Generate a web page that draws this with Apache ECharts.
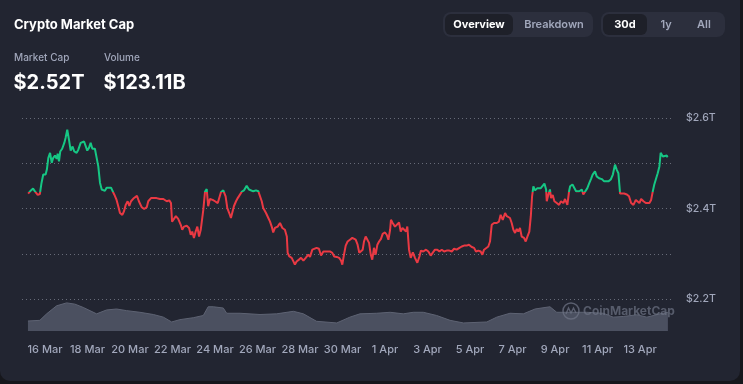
<!DOCTYPE html>
<html><head><meta charset="utf-8">
<script src="https://cdn.jsdelivr.net/npm/echarts@6/dist/echarts.min.js"></script>
<style>
html,body{margin:0;padding:0;background:#16171c;}
#card{position:absolute;left:0;top:0;width:740px;height:381px;background:#222531;border-radius:0 0 10px 10px;overflow:hidden;}
#c{width:740px;height:381px;}
</style></head>
<body><div id="card"><div id="c"></div></div>
<script>
// time in days after 16 Mar 00:00
const times = [-0.79,-0.66,-0.56,-0.47,-0.34,-0.24,-0.16,-0.08,0.03,0.09,
0.16,0.24,0.32,0.39,0.47,0.55,0.60,0.66,0.72,0.81,
0.91,0.97,1.05,1.13,1.21,1.30,1.38,1.49,1.57,1.68,
1.76,1.84,1.92,1.99,2.07,2.15,2.23,2.35,2.43,2.51,
2.59,2.67,2.74,2.82,2.90,2.98,3.11,3.19,3.26,3.37,
3.45,3.53,3.64,3.72,3.80,3.89,3.97,4.05,4.16,4.24,
4.33,4.42,4.55,4.67,4.79,4.86,4.99,5.14,5.25,5.41,
5.57,5.73,5.85,5.93,5.98,6.07,6.16,6.27,6.39,6.46,
6.54,6.67,6.78,6.86,6.93,7.01,7.09,7.17,7.25,7.33,
7.40,7.45,7.53,7.61,7.68,7.76,7.89,8.00,8.13,8.20,
8.28,8.39,8.50,8.58,8.67,8.75,8.81,8.89,8.99,9.07,
9.14,9.26,9.36,9.49,9.60,9.68,9.80,9.93,10.04,10.12,
10.20,10.27,10.40,10.51,10.59,10.67,10.74,10.82,10.95,11.06,
11.17,11.29,11.38,11.42,11.50,11.61,11.69,11.76,11.84,11.95,
12.05,12.16,12.27,12.39,12.47,12.58,12.67,12.78,12.89,12.99,
13.10,13.18,13.30,13.41,13.52,13.61,13.73,13.84,13.93,13.99,
14.07,14.15,14.24,14.35,14.46,14.54,14.62,14.71,14.79,14.87,
14.95,15.01,15.09,15.17,15.25,15.33,15.40,15.48,15.56,15.64,
15.72,15.81,15.89,16.00,16.08,16.16,16.24,16.28,16.36,16.47,
16.56,16.66,16.74,16.82,16.91,16.99,17.05,17.13,17.21,17.31,
17.41,17.52,17.62,17.69,17.80,17.93,18.04,18.15,18.24,18.35,
18.46,18.56,18.67,18.78,18.90,19.03,19.14,19.25,19.37,19.50,
19.61,19.72,19.84,19.95,20.08,20.19,20.28,20.39,20.50,20.58,
20.66,20.75,20.86,20.94,21.02,21.13,21.26,21.36,21.44,21.54,
21.65,21.73,21.80,21.88,21.96,22.04,22.12,22.20,22.27,22.35,
22.43,22.54,22.62,22.70,22.79,22.86,22.92,22.98,23.06,23.17,
23.33,23.42,23.50,23.58,23.61,23.68,23.76,23.81,23.89,23.97,
24.08,24.19,24.28,24.39,24.47,24.58,24.66,24.71,24.82,24.91,
24.99,25.07,25.14,25.26,25.33,25.41,25.52,25.61,25.69,25.77,
25.88,25.96,26.07,26.20,26.31,26.40,26.51,26.62,26.72,26.82,
26.90,26.98,27.06,27.14,27.25,27.38,27.48,27.58,27.69,27.80,
27.89,27.97,28.05,28.16,28.27,28.36,28.44,28.52,28.60,28.67,
28.75,28.83,28.91,28.97,29.07,29.15,29.26,29.29];
// market cap, trillions USD
const caps = [2.433,2.440,2.444,2.438,2.430,2.432,2.457,2.475,2.475,2.486,
2.512,2.523,2.501,2.512,2.517,2.510,2.521,2.504,2.526,2.532,
2.545,2.556,2.574,2.552,2.528,2.537,2.526,2.523,2.530,2.545,
2.541,2.548,2.545,2.528,2.534,2.545,2.532,2.532,2.534,2.493,
2.457,2.442,2.446,2.439,2.446,2.442,2.446,2.438,2.431,2.419,
2.405,2.390,2.386,2.394,2.408,2.416,2.406,2.416,2.422,2.419,
2.428,2.416,2.403,2.399,2.403,2.416,2.423,2.423,2.423,2.421,
2.421,2.416,2.418,2.412,2.371,2.375,2.383,2.377,2.364,2.353,
2.360,2.362,2.357,2.342,2.349,2.335,2.349,2.360,2.338,2.353,
2.353,2.397,2.437,2.443,2.405,2.421,2.419,2.416,2.412,2.408,
2.436,2.440,2.427,2.401,2.390,2.379,2.390,2.405,2.416,2.423,
2.419,2.437,2.440,2.450,2.442,2.438,2.438,2.440,2.438,2.435,
2.416,2.401,2.390,2.379,2.371,2.360,2.347,2.357,2.360,2.368,
2.357,2.353,2.338,2.302,2.294,2.291,2.283,2.276,2.283,2.287,
2.291,2.285,2.291,2.298,2.293,2.309,2.313,2.313,2.311,2.296,
2.305,2.307,2.305,2.305,2.302,2.294,2.293,2.291,2.285,2.276,
2.298,2.318,2.327,2.331,2.335,2.338,2.331,2.320,2.302,2.305,
2.309,2.327,2.338,2.335,2.324,2.298,2.287,2.313,2.298,2.320,
2.327,2.333,2.344,2.347,2.342,2.331,2.353,2.375,2.368,2.360,
2.364,2.369,2.349,2.357,2.359,2.349,2.360,2.309,2.291,2.303,
2.291,2.280,2.294,2.307,2.305,2.309,2.305,2.296,2.302,2.309,
2.309,2.305,2.309,2.305,2.307,2.307,2.305,2.311,2.309,2.313,
2.316,2.318,2.318,2.320,2.315,2.313,2.305,2.307,2.305,2.298,
2.309,2.313,2.316,2.327,2.364,2.368,2.368,2.371,2.386,2.375,
2.390,2.383,2.386,2.379,2.368,2.353,2.346,2.355,2.349,2.357,
2.338,2.335,2.327,2.338,2.349,2.383,2.427,2.449,2.440,2.445,
2.445,2.442,2.455,2.442,2.416,2.430,2.442,2.423,2.430,2.416,
2.412,2.408,2.416,2.412,2.421,2.408,2.438,2.449,2.453,2.449,
2.438,2.442,2.438,2.442,2.431,2.434,2.445,2.456,2.465,2.475,
2.482,2.471,2.467,2.465,2.460,2.464,2.460,2.464,2.475,2.497,
2.486,2.478,2.433,2.432,2.433,2.431,2.427,2.412,2.408,2.419,
2.423,2.412,2.421,2.416,2.412,2.408,2.412,2.419,2.438,2.453,
2.456,2.478,2.493,2.523,2.515,2.519,2.517,2.513];
const baseline = 2.436;
// volume (billions USD)
const volTimes = [-0.80,-0.24,0.08,0.55,1.02,1.41,1.80,2.43,2.90,3.37,3.84,4.47,5.10,5.57,5.96,6.35,6.98,7.45,7.68,7.92,8.39,8.55,9.18,10.12,10.90,11.69,12.16,12.78,13.73,14.35,14.82,15.61,16.24,16.86,17.33,17.80,18.43,19.06,19.69,20.79,21.26,21.88,22.51,23.06,23.76,24.08,24.71,25.49,26.27,26.74,27.21,27.85,28.32,28.94,29.31];
const volumes = [103,110,177,260,290,277,243,177,217,227,210,193,170,143,93,117,137,160,250,250,237,183,183,170,177,203,177,100,83,143,177,183,193,177,193,193,160,110,83,93,143,183,177,227,250,193,193,193,183,143,150,167,143,177,193];
const tickDays = [0,2,4,6,8,10,12,14,16,18,20,22,24,26,28];
const tickLabels = ['16 Mar','18 Mar','20 Mar','22 Mar','24 Mar','26 Mar','28 Mar','30 Mar','1 Apr','3 Apr','5 Apr','7 Apr','9 Apr','11 Apr','13 Apr'];
const yTicksShown = [2.2, 2.4, 2.6];

const FONT = 'Inter, "Noto Sans", sans-serif';
const GRAY = '#a1a7bb';
const chart = echarts.init(document.getElementById('c'), null, {renderer:'canvas'});
const X_MIN = -1.08, X_MAX = 29.55;

function txt(x, y, s, size, weight, color, align){
  return {type:'text', x:x, y:y, style:{text:s, font: weight+' '+size+'px '+FONT, fill:color, textAlign:align||'left', textVerticalAlign:'middle'}, silent:true};
}

const graphics = [
  txt(14, 25, 'Crypto Market Cap', 13, 700, '#ffffff'),
  txt(14, 58, 'Market Cap', 10, 500, GRAY),
  txt(104, 58, 'Volume', 10, 500, GRAY),
  txt(13.5, 82.5, '$2.52T', 20, 700, '#ffffff'),
  txt(103.5, 82.5, '$123.11B', 20, 700, '#ffffff'),
  {type:'rect', shape:{x:443, y:12, width:150, height:25, r:8}, style:{fill:'#2c2f3d'}, silent:true},
  {type:'rect', shape:{x:445, y:14, width:68, height:21, r:6}, style:{fill:'#1e2029'}, silent:true},
  txt(479, 24.5, 'Overview', 11, 700, '#ffffff', 'center'),
  txt(554, 24.5, 'Breakdown', 11, 600, GRAY, 'center'),
  {type:'rect', shape:{x:601, y:12, width:124, height:25, r:8}, style:{fill:'#2c2f3d'}, silent:true},
  {type:'rect', shape:{x:603, y:14, width:44, height:21, r:6}, style:{fill:'#1e2029'}, silent:true},
  txt(625, 24.5, '30d', 11, 700, '#ffffff', 'center'),
  txt(666, 24.5, '1y', 11, 600, GRAY, 'center'),
  txt(704, 24.5, 'All', 11, 600, GRAY, 'center'),
  // watermark
  {type:'circle', shape:{cx:571, cy:311, r:8}, style:{fill:'none', stroke:'rgba(110,115,132,0.75)', lineWidth:1.5}, silent:true, z:100},
  {type:'polyline', shape:{points:[[566,314],[568.5,308],[571,313],[573.5,308],[576,313]]}, style:{fill:'none', stroke:'rgba(110,115,132,0.75)', lineWidth:1.4}, silent:true, z:100},
  {type:'text', x:583, y:311, style:{text:'CoinMarketCap', font:'700 12px '+FONT, fill:'rgba(110,115,132,0.7)', textVerticalAlign:'middle'}, silent:true, z:100}
];

const option = {
  animation:false,
  backgroundColor:'transparent',
  grid:[
    {left:22, right:67, top:118, height:181, containLabel:false},
    {left:22, right:67, top:299, height:32, containLabel:false}
  ],
  xAxis:[
    {type:'value', gridIndex:0, min:X_MIN, max:X_MAX, show:false},
    {type:'value', gridIndex:1, min:X_MIN, max:X_MAX,
     axisLine:{show:false}, axisTick:{show:false}, splitLine:{show:false},
     axisLabel:{customValues:tickDays, color:GRAY, fontSize:11, fontFamily:FONT, fontWeight:500, margin:13,
       formatter:function(v){ const i = tickDays.indexOf(Math.round(v)); return i>=0 ? tickLabels[i] : ''; }}}
  ],
  yAxis:[
    {type:'value', gridIndex:0, position:'right', min:2.2, max:2.6, interval:0.1,
     axisLine:{show:false}, axisTick:{show:false},
     splitLine:{show:true, lineStyle:{color:'#676b78', type:[1,3], width:1}},
     axisLabel:{color:GRAY, fontSize:10.5, fontFamily:FONT, fontWeight:500, margin:13,
       formatter:function(v){ const r = Math.round(v*10)/10; return yTicksShown.some(t=>Math.abs(t-r)<1e-6) ? '$'+r.toFixed(1)+'T' : ''; }}},
    {type:'value', gridIndex:1, min:0, max:330, show:false}
  ],
  visualMap:[{type:'piecewise', show:false, seriesIndex:0, dimension:1,
    pieces:[{gt:baseline, lte:3, color:'#16c784'},{gt:1, lte:baseline, color:'#ea3943'}]}],
  series:[
    {type:'line', xAxisIndex:0, yAxisIndex:0, showSymbol:false, symbol:'none',
     data: times.map((t,i)=>[t, caps[i]]), lineStyle:{width:2}, z:5},
    {type:'line', xAxisIndex:1, yAxisIndex:1, showSymbol:false, symbol:'none',
     data: volTimes.map((t,i)=>[t, volumes[i]]),
     lineStyle:{width:1, color:'#5e6373'}, itemStyle:{color:'#5e6373'},
     areaStyle:{color:'#4b5060', opacity:1}, z:2}
  ],
  graphic: graphics
};
chart.setOption(option);
</script>
</body></html>
